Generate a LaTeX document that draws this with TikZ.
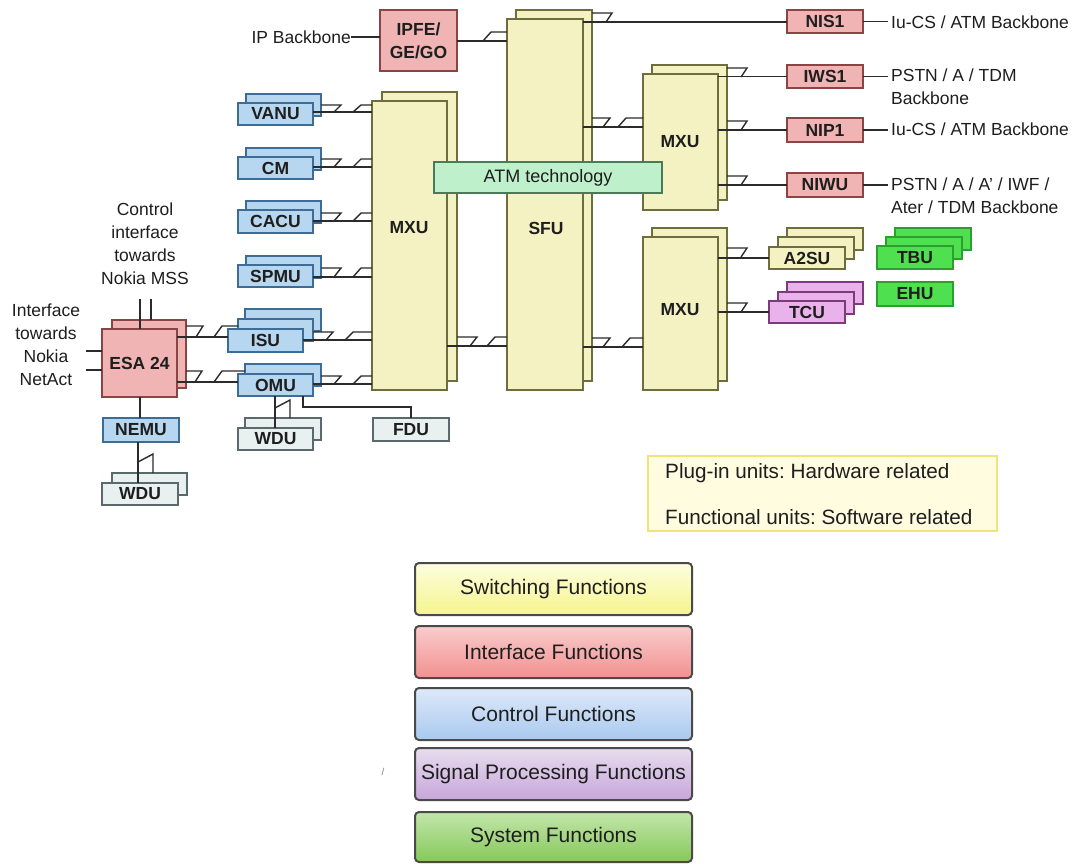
\documentclass[tikz,border=0pt]{standalone}
\usepackage{fontspec}
\setmainfont{Liberation Sans}
\definecolor{yelF}{HTML}{F4F2C2}\definecolor{yelD}{HTML}{6E6D3C}
\definecolor{redF}{HTML}{F0B4B4}\definecolor{redD}{HTML}{8A4444}
\definecolor{bluF}{HTML}{B7D6EF}\definecolor{bluD}{HTML}{3D6D96}
\definecolor{wduF}{HTML}{E8F0F0}\definecolor{wduD}{HTML}{5A6A6C}
\definecolor{pnkF}{HTML}{EAB2EA}\definecolor{pnkD}{HTML}{7C3C7C}
\definecolor{grnF}{HTML}{4EE04E}\definecolor{grnD}{HTML}{2E9E2E}
\definecolor{atmF}{HTML}{BDF0CB}\definecolor{atmD}{HTML}{4A7A58}
\definecolor{legF}{HTML}{FFFCE0}\definecolor{legD}{HTML}{F2E27A}
\definecolor{lineC}{HTML}{2B2B2B}\definecolor{txt}{HTML}{1E1E1E}
\definecolor{swT}{HTML}{FDFDE0}\definecolor{swB}{HTML}{F5F58C}
\definecolor{ifT}{HTML}{F9CCCC}\definecolor{ifB}{HTML}{F29090}
\definecolor{ctT}{HTML}{DDE9F9}\definecolor{ctB}{HTML}{A9C9EF}
\definecolor{spT}{HTML}{E7DCEF}\definecolor{spB}{HTML}{C8A6DA}
\definecolor{syT}{HTML}{C2E6AA}\definecolor{syB}{HTML}{86C85A}
\definecolor{barD}{HTML}{4A4A4A}
\newcommand{\ubox}[7]{\node[#1, minimum width={#4-#2}, minimum height={#5-#3}] (#6) at ({(#2+#4)/2},{(#3+#5)/2}) {#7};}
\newcommand{\zz}[6]{%
 \draw[conn] (#1 |- 0,#3) -- (#5,#3) -- ({#5-7},#4);
 \draw[conn] (#6,#4) -- ({#6+8},#3) -- (#2 |- 0,#3);}
\newcommand{\zs}[4]{\draw[conn] (#1 |- 0,#2) -- (#4,#2) -- ({#4-6},#3);}
\frenchspacing
\begin{document}
\frenchspacing
\begin{tikzpicture}[x=1pt,y=-1pt,
  lbl/.style={font=\fontsize{17.5}{23}\selectfont, text=txt, inner sep=0pt},
  blbl/.style={font=\fontsize{17.5}{21}\selectfont\bfseries, text=txt, inner sep=0pt},
  unit/.style={line width=1.3pt, inner sep=0pt, outer sep=0pt, font=\fontsize{17.5}{23}\selectfont\bfseries, text=txt, align=center},
  yel/.style={unit, fill=yelF, draw=yelD},
  red/.style={unit, fill=redF, draw=redD},
  blu/.style={unit, fill=bluF, draw=bluD},
  wdu/.style={unit, fill=wduF, draw=wduD},
  pnk/.style={unit, fill=pnkF, draw=pnkD},
  grn/.style={unit, fill=grnF, draw=grnD},
  atm/.style={unit, fill=atmF, draw=atmD, font=\fontsize{18}{22}\selectfont},
  bar/.style={line width=2pt, draw=barD, rounded corners=4pt, inner sep=0pt, outer sep=0pt, text=txt, font=\fontsize{21}{24}\selectfont},
  conn/.style={draw=lineC, line width=1.4pt},
]
\useasboundingbox (0,0) rectangle (1082,863);
\fill[white] (0,0) rectangle (1082,863);

% ---- big switching units
\ubox{yel}{516}{10}{592}{381}{sfub}{}
\ubox{yel}{507}{19}{583}{390}{sfu}{}
\node[blbl] (sfut) at (546,228) {SFU};
\ubox{yel}{382}{92}{457}{381}{mxlb}{}
\ubox{yel}{372}{101}{447}{390}{mxl}{}
\node[blbl] (mxlt) at (409,228) {MXU};
\ubox{yel}{652}{65}{727}{200}{mxtb}{}
\ubox{yel}{643}{74}{718}{210}{mxt}{}
\node[blbl] (mxtt) at (680,142) {MXU};
\ubox{yel}{652}{228}{727}{381}{mxbb}{}
\ubox{yel}{643}{237}{718}{390}{mxb}{}
\node[blbl] (mxbt) at (680,310) {MXU};
\ubox{atm}{434}{162}{662}{193}{atm}{ATM technology}

% ---- interface units
\ubox{red}{380}{10}{457}{71}{ipfe}{IPFE/\\GE/GO}
\ubox{red}{787}{10}{863}{33}{nis}{NIS1}
\ubox{red}{787}{65}{863}{88}{iws}{IWS1}
\ubox{red}{787}{118}{863}{142}{nip}{NIP1}
\ubox{red}{787}{173}{863}{197}{niwu}{NIWU}

% ---- control units
\ubox{blu}{246}{94}{321}{116}{vanub}{}
\ubox{blu}{238}{103}{313}{125}{vanu}{VANU}
\ubox{blu}{246}{148}{321}{170}{cmb}{}
\ubox{blu}{238}{157}{313}{179}{cm}{CM}
\ubox{blu}{246}{201}{321}{223}{cacub}{}
\ubox{blu}{238}{210}{313}{233}{cacu}{CACU}
\ubox{blu}{246}{256}{321}{278}{spmub}{}
\ubox{blu}{238}{265}{313}{287}{spmu}{SPMU}
\ubox{blu}{245}{309}{321}{331}{isu3}{}
\ubox{blu}{238}{319}{313}{341}{isu2}{}
\ubox{blu}{228}{329}{303}{352}{isu}{ISU}
\ubox{blu}{245}{364}{321}{386}{omub}{}
\ubox{blu}{238}{374}{313}{396}{omu}{OMU}
\ubox{red}{112}{320}{186}{388}{esab}{}
\ubox{red}{102}{329}{177}{397}{esa}{ESA 24}
\ubox{blu}{103}{418}{179}{442}{nemu}{NEMU}
\ubox{wdu}{112}{473}{187}{495}{wdulb}{}
\ubox{wdu}{102}{483}{178}{505}{wdul}{WDU}
\ubox{wdu}{245}{418}{321}{440}{wdumb}{}
\ubox{wdu}{238}{428}{313}{450}{wdum}{WDU}
\ubox{wdu}{373}{418}{449}{441}{fdu}{FDU}

% ---- right side units
\ubox{yel}{787}{228}{863}{250}{a2su3}{}
\ubox{yel}{778}{237}{854}{259}{a2su2}{}
\ubox{yel}{769}{247}{845}{269}{a2su}{A2SU}
\ubox{pnk}{787}{282}{863}{304}{tcu3}{}
\ubox{pnk}{778}{292}{854}{314}{tcu2}{}
\ubox{pnk}{769}{301}{845}{323}{tcu}{TCU}
\ubox{grn}{895}{228}{971}{250}{tbu3}{}
\ubox{grn}{886}{237}{962}{259}{tbu2}{}
\ubox{grn}{877}{246}{953}{269}{tbu}{TBU}
\ubox{grn}{877}{282}{953}{306}{ehu}{EHU}

% ---- texts
\node[lbl, anchor=east] (ipb) at (351,37) {IP Backbone};
\node[lbl, anchor=west, inner xsep=3pt] (t1) at (888,22) {Iu-CS / ATM Backbone};
\node[lbl, anchor=west, inner xsep=3pt, align=left] (t2) at (888,87) {PSTN / A / TDM\\Backbone};
\node[lbl, anchor=west, inner xsep=3pt] (t3) at (888,129) {Iu-CS / ATM Backbone};
\node[lbl, anchor=west, inner xsep=3pt, align=left] (t4) at (888,196) {PSTN / A / A' / IWF /\\Ater / TDM Backbone};
\node[lbl, align=center] (ctl) at (145,244) {Control\\interface\\towards\\Nokia MSS};
\node[lbl, align=center] (ifc) at (46,345) {Interface\\towards\\Nokia\\NetAct};

% ---- connectors: top / right
\draw[conn] (ipb.east) -- (ipfe.west |- ipb.east);
\draw[conn] (ipfe.east |- 0,41) -- (sfu.west |- 0,41);
\draw[conn] (483,41) -- (491,32) -- (sfu.west |- 0,32);
\draw[conn] (sfu.east |- 0,22) -- (nis.west |- 0,22);
\zs{sfub.east}{13}{22}{612}
\draw[conn] (nis.east) -- (nis.east -| t1.west);
\draw[conn] (sfu.east |- 0,127) -- (mxt.west |- 0,127);
\zz{sfub.east}{mxt.west}{118}{127}{610}{618}
\draw[conn] (mxt.east |- iws.west) -- (iws.west);
\zs{mxtb.east}{68}{77}{747}
\draw[conn] (mxt.east |- nip.west) -- (nip.west);
\zs{mxtb.east}{121}{130}{747}
\draw[conn] (mxt.east |- niwu.west) -- (niwu.west);
\zs{mxtb.east}{176}{185}{747}
\draw[conn] (iws.east) -- (iws.east -| t2.west);
\draw[conn] (nip.east) -- (nip.east -| t3.west);
\draw[conn] (niwu.east) -- (niwu.east -| t4.west);
\draw[conn] (mxb.east |- a2su.west) -- (a2su.west);
\zs{mxbb.east}{248}{257}{747}
\draw[conn] (mxb.east |- tcu.west) -- (tcu.west);
\zs{mxbb.east}{303}{312}{747}
\draw[conn] (mxl.east |- 0,346) -- (sfu.west |- 0,346);
\zz{mxlb.east}{sfu.west}{337}{346}{477}{487}
\draw[conn] (sfu.east |- 0,347) -- (mxb.west |- 0,347);
\zz{sfub.east}{mxb.west}{338}{347}{610}{622}

% ---- connectors: control units to MXU
\draw[conn] (vanu.east |- 0,112) -- (mxl.west |- 0,112);
\zz{vanub.east}{mxl.west}{105}{112}{341}{353}
\draw[conn] (cm.east |- 0,167) -- (mxl.west |- 0,167);
\zz{cmb.east}{mxl.west}{159}{167}{341}{353}
\draw[conn] (cacu.east |- 0,221) -- (mxl.west |- 0,221);
\zz{cacub.east}{mxl.west}{213}{221}{341}{353}
\draw[conn] (spmu.east |- 0,277) -- (mxl.west |- 0,277);
\zz{spmub.east}{mxl.west}{268}{277}{341}{353}
\draw[conn] (isu.east |- 0,340) -- (mxl.west |- 0,340);
\zz{isu2.east}{mxl.west}{332}{340}{333}{345}
\draw[conn] (omu.east |- 0,384) -- (mxl.west |- 0,384);
\zz{omub.east}{mxl.west}{376}{384}{341}{353}

% ---- ESA connectors
\draw[conn] (esa.east |- 0,337) -- (isu.west |- 0,337);
\zz{esab.east}{isu2.west}{326}{337}{203}{214}
\draw[conn] (esa.east |- 0,382) -- (omu.west |- 0,382);
\zz{esab.east}{omub.west}{371}{382}{202}{214}
\coordinate (ct1) at (140,299);
\coordinate (ct2) at (151,299);
\draw[conn] (esa.north -| ct1) -- (ct1);
\draw[conn] (esab.north -| ct2) -- (ct2);
\coordinate (nl1) at (86,351);
\coordinate (nl2) at (86,370);
\draw[conn] (esa.west |- nl1) -- (nl1);
\draw[conn] (esa.west |- nl2) -- (nl2);
\draw[conn] (esa.south -| 140,0) -- (nemu.north -| 140,0);
\draw[conn] (nemu.south -| 138,0) -- (wdul.north -| 138,0);
\draw[conn] (138,462) -- (153,454) -- (wdulb.north -| 153,0);
\draw[conn] (omu.south -| 275,0) -- (wdum.north -| 275,0);
\draw[conn] (275,408) -- (290,400) -- (wdumb.north -| 290,0);
\draw[conn] (omu.south -| 303,0) -- (303,407) -- (fdu.north |- 0,407) -- (fdu.north);

% ---- legend box
\ubox{unit, fill=legF, draw=legD, line width=1.2pt}{648}{456}{997}{531}{leg}{}
\node[lbl, anchor=west, font=\fontsize{20.7}{24}\selectfont] (leg1) at (665,473) {Plug-in units: Hardware related};
\node[lbl, anchor=west, font=\fontsize{20.7}{24}\selectfont] (leg2) at (665,517) {Functional units: Software related};

% ---- function bars
\ubox{bar, top color=swT, bottom color=swB}{415}{563}{692}{615}{bsw}{Switching Functions}
\ubox{bar, top color=ifT, bottom color=ifB}{415}{626}{692}{678}{bif}{Interface Functions}
\ubox{bar, top color=ctT, bottom color=ctB}{415}{688}{692}{740}{bct}{Control Functions}
\ubox{bar, top color=spT, bottom color=spB}{415}{748}{692}{800}{bsp}{Signal Processing Functions}
\ubox{bar, top color=syT, bottom color=syB}{415}{812}{692}{862}{bsy}{System Functions}
\node[text=gray, font=\fontsize{10}{10}\selectfont, inner sep=0pt] (stray) at (383,772) {/};
\end{tikzpicture}
\end{document}
